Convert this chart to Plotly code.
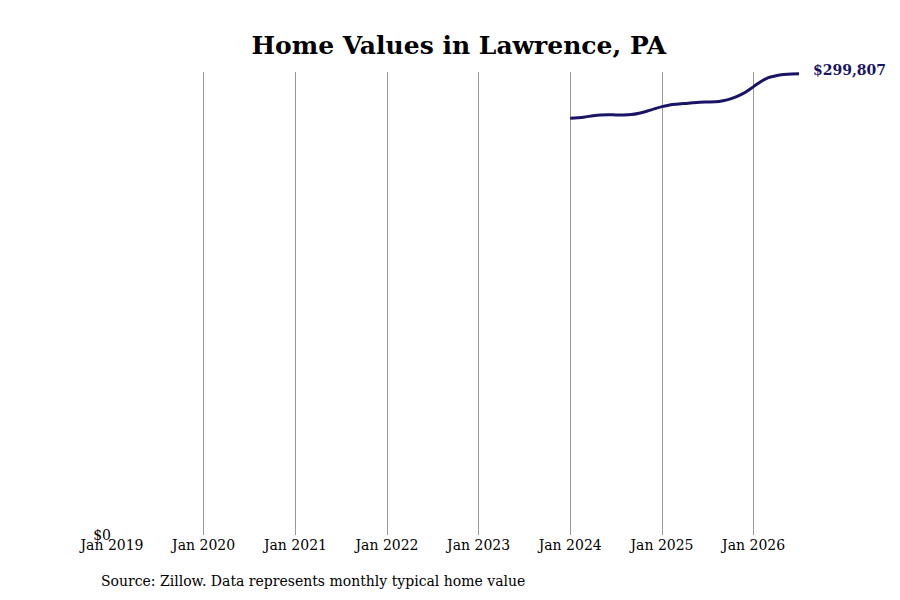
import plotly.graph_objects as go
import pandas as pd

# monthly typical home value, Jan 2024 .. Jul 2026
dates = pd.date_range("2024-01-01", "2026-07-01", freq="MS")
values = [271000, 271300, 271800, 272500, 273000, 273200, 273100, 273000, 273300, 274200,
          275500, 277000, 278500, 279600, 280100, 280500, 281000, 281400, 281500, 281600,
          282300, 283500, 285500, 288000, 291500, 295000, 297300, 298600, 299300, 299700,
          299807]
last_label = "$299,807"
source = "Source: Zillow. Data represents monthly typical home value"

fig = go.Figure()
fig.add_trace(go.Scatter(x=dates, y=values, mode="lines",
                         line=dict(color="#1a1466", width=3, shape="spline"),
                         hoverinfo="skip", showlegend=False))

fig.add_annotation(x=dates[-1], y=values[-1], text="<b>" + last_label + "</b>",
                   showarrow=False, xanchor="left", xshift=12, yshift=4,
                   font=dict(size=14, color="#1a1466", family="DejaVu Serif"))
fig.add_annotation(x=0, y=-0.10, xref="paper", yref="paper", text=source,
                   showarrow=False, xanchor="left", yanchor="middle", xshift=-13,
                   font=dict(size=14, color="black", family="DejaVu Serif"))

tickvals = [pd.Timestamp(f"{y}-01-01") for y in range(2019, 2027)]
fig.update_layout(
    width=884, height=584,
    plot_bgcolor="white", paper_bgcolor="white",
    margin=dict(l=104, r=93, t=64, b=57),
    title=dict(text="<b>Home Values in Lawrence, PA</b>", x=0.51, y=0.952,
               font=dict(size=25, color="black", family="DejaVu Serif")),
    font=dict(family="DejaVu Serif", size=14, color="black"),
    xaxis=dict(range=[pd.Timestamp("2019-01-01"), pd.Timestamp("2026-07-01")],
               tickvals=tickvals, ticktext=[f"Jan {t.year}" for t in tickvals],
               showgrid=True, gridcolor="#999", gridwidth=1, zeroline=False,
               showline=False, ticks=""),
    yaxis=dict(range=[0, 301000], tickvals=[0], ticktext=["$0"],
               showgrid=False, zeroline=False, showline=False, ticks=""),
)
fig.write_html("out.html")
